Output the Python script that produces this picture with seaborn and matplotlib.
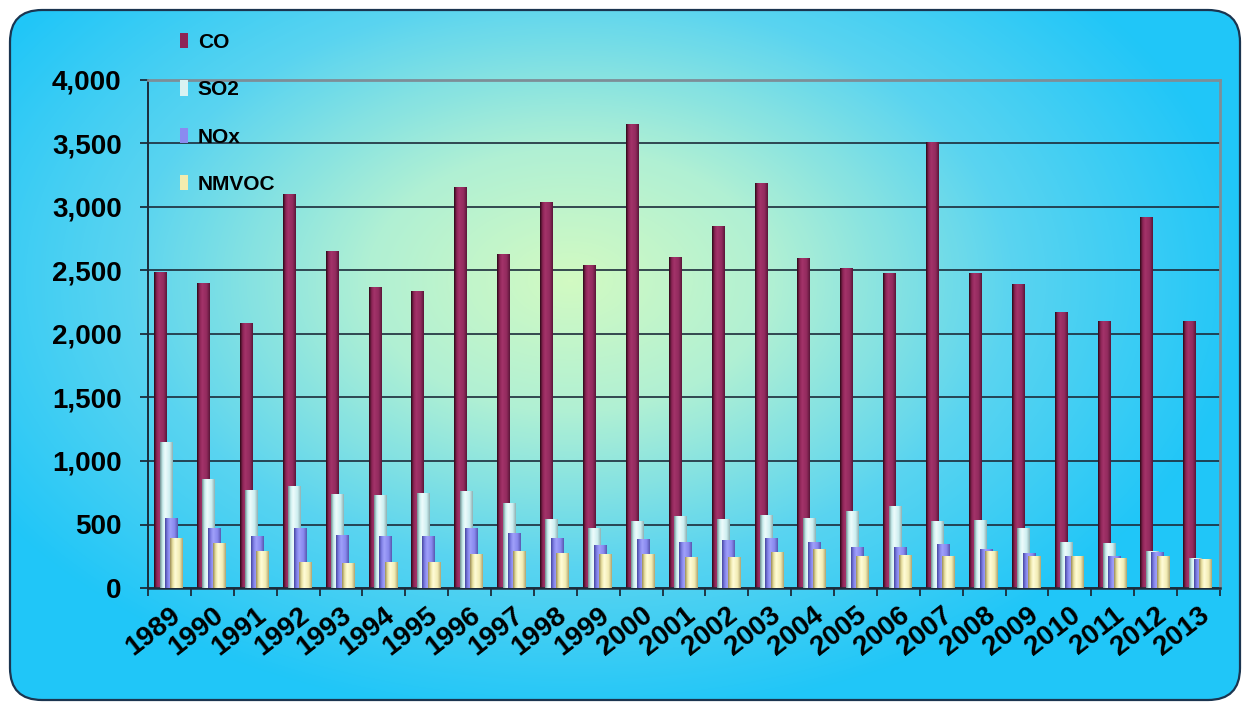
import numpy as np
import pandas as pd
import matplotlib
matplotlib.use("Agg")
import matplotlib.pyplot as plt
import seaborn as sns
from matplotlib.colors import LinearSegmentedColormap
from matplotlib.patches import FancyBboxPatch, Patch
from matplotlib.ticker import FuncFormatter

# ---------------- data ----------------
years = list(range(1989, 2014))
co = [2490, 2400, 2090, 3100, 2650, 2370, 2340, 3160, 2630, 3040, 2540, 3650, 2610,
      2850, 3190, 2600, 2520, 2480, 3510, 2480, 2390, 2170, 2100, 2920, 2100]
so2 = [1150, 860, 770, 800, 740, 730, 750, 760, 670, 540, 475, 530, 565,
       545, 575, 555, 605, 645, 530, 535, 470, 365, 355, 295, 235]
nox = [555, 470, 410, 470, 420, 410, 410, 470, 430, 395, 335, 385, 365,
       375, 395, 365, 325, 325, 345, 305, 275, 255, 255, 280, 230]
nmvoc = [395, 355, 295, 205, 200, 205, 205, 265, 295, 275, 265, 265, 245,
         245, 280, 310, 255, 260, 255, 290, 250, 250, 235, 250, 230]
series_names = ["CO", "SO2", "NOx", "NMVOC"]
y_ticks = [0, 500, 1000, 1500, 2000, 2500, 3000, 3500, 4000]

# ---------------- style ----------------
plt.rcParams['font.family'] = ['Liberation Sans', 'DejaVu Sans']
W, H = 1246, 707
fig = plt.figure(figsize=(W / 100, H / 100), dpi=100)
fig.patch.set_facecolor('white')

# background rounded panel with radial gradient
bg = fig.add_axes([0, 0, 1, 1], zorder=-5)
bg.set_xlim(0, W)
bg.set_ylim(H, 0)
bg.axis('off')
X, Y = np.meshgrid(np.arange(W), np.arange(H))
d = np.sqrt(((X - 570) / 680) ** 2 + ((Y - 280) / 440) ** 2)
d = np.clip(d, 0, 1)
bg_cmap = LinearSegmentedColormap.from_list(
    "bg", [(0.0, '#d2fac2'), (0.3, '#b0f0d4'), (0.65, '#5ad4f0'), (1.0, '#20c6f8')])
img = bg.imshow(d, cmap=bg_cmap, vmin=0, vmax=1, extent=(0, W, H, 0),
                interpolation='bilinear', aspect='auto')
panel = FancyBboxPatch((10, 10), 1230, 690, boxstyle='round,pad=0,rounding_size=32',
                       transform=bg.transData, facecolor='none',
                       edgecolor='#1b3550', lw=1.6, zorder=3)
bg.add_patch(panel)
img.set_clip_path(panel)

# main axes
ax = fig.add_axes([148 / W, 1 - 588 / H, (1220 - 148) / W, (588 - 80) / H])
ax.set_facecolor('none')

base_colors = ['#8e2456', '#d8f2f2', '#8a8af0', '#f2ecae']
grad_stops = [
    ['#2a0816', '#8a2454', '#a3336a', '#922b5e', '#5a1638'],
    ['#6f8f90', '#c8ecec', '#eefcfc', '#cdeef0', '#8fb0b2'],
    ['#4646a0', '#8080e6', '#a0a0fa', '#8888ee', '#5858b0'],
    ['#9a8c58', '#e8e0a0', '#fffcd8', '#f2ecb4', '#b0a470'],
]
offsets = [-0.215, -0.09, 0.035, 0.16]
idx = np.arange(len(years))
grad = np.linspace(0, 1, 64).reshape(1, -1)
cmaps = [LinearSegmentedColormap.from_list(
    f"g{k}", list(zip([0.0, 0.2, 0.4, 0.75, 1.0], grad_stops[k]))) for k in range(4)]

for k, vals in enumerate([co, so2, nox, nmvoc]):
    df = pd.DataFrame({"x": idx + offsets[k], "v": vals})
    n0 = len(ax.patches)
    sns.barplot(data=df, x="x", y="v", native_scale=True, width=0.28,
                color=base_colors[k], saturation=1, errorbar=None,
                linewidth=0, edgecolor='none', ax=ax, zorder=2 + k)
    for p in ax.patches[n0:]:
        x0, y0 = p.get_x(), p.get_y()
        w, h = p.get_width(), p.get_height()
        im = ax.imshow(grad, extent=(x0, x0 + w, y0, y0 + h), aspect='auto',
                       cmap=cmaps[k], interpolation='bilinear', zorder=2 + k + 0.5)
        im.set_clip_path(p)

ax.set_xlim(-0.5, len(years) - 0.5)
ax.set_ylim(0, 4000)
ax.set_xlabel("")
ax.set_ylabel("")

# y axis
ax.set_yticks(y_ticks)
ax.yaxis.set_major_formatter(FuncFormatter(lambda v, p: f"{int(v):,}"))
ax.tick_params(axis='y', direction='out', length=6, width=1.3, color='#1c2b3a',
               pad=13, labelsize=20)
for t in ax.get_yticklabels():
    t.set_fontweight('bold')
ax.set_axisbelow(True)
ax.yaxis.grid(True, color='#1c2b3a', lw=1.2, zorder=0.5)
ax.xaxis.grid(False)

# x axis
ax.set_xticks(idx)
ax.set_xticklabels([str(y) for y in years], rotation=38, ha='right',
                   rotation_mode='anchor', fontsize=20, fontweight='bold')
ax.tick_params(axis='x', which='major', length=0, pad=10)
ax.set_xticks(np.arange(-0.5, len(years), 1), minor=True)
ax.tick_params(axis='x', which='minor', direction='out', length=6, width=1.3,
               color='#1c2b3a')

for s, c, lw in [('left', '#1c2b3a', 1.4), ('bottom', '#1c2b3a', 1.8),
                 ('top', '#7d8e98', 2.0), ('right', '#7d8e98', 2.0)]:
    ax.spines[s].set_visible(True)
    ax.spines[s].set_color(c)
    ax.spines[s].set_linewidth(lw)

# legend
handles = [Patch(facecolor=base_colors[k], edgecolor='none') for k in range(4)]
leg = fig.legend(handles, series_names, loc='upper left',
                 bbox_to_anchor=(180 / W, 1 - 33 / H), frameon=False,
                 prop={'weight': 'bold', 'size': 15}, handlelength=0.4,
                 handleheight=0.75, handletextpad=0.45, labelspacing=1.36,
                 borderpad=0, borderaxespad=0)

fig.savefig("out.png", dpi=100)
